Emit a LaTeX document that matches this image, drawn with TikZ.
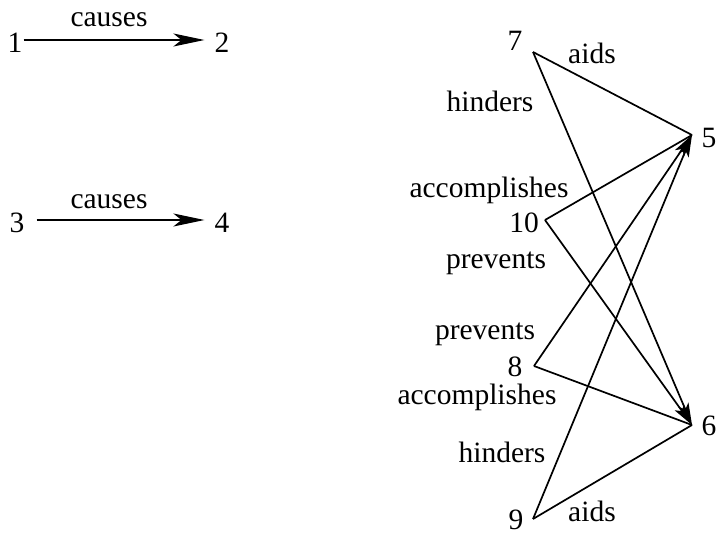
\documentclass[tikz,border=0pt]{standalone}
\usepackage{fontspec}
\setmainfont{Liberation Serif}
\usetikzlibrary{arrows.meta}
\begin{document}
\begin{tikzpicture}[x=1pt,y=-1pt,
  lbl/.style={anchor=base,inner sep=0pt,font=\fontsize{29.5}{32}\selectfont},
  edge/.style={line width=1.7pt,line join=miter},
  bigtip/.style={edge,-{Stealth[length=31pt,width=13pt,inset=8pt]}},
  tip/.style={edge,-{Stealth[length=22pt,width=11pt,inset=5pt]}}]
\useasboundingbox (0,0) rectangle (716,535);

% left: two causal pairs
\node[lbl] (n1) at (15,53) {1};
\node[lbl] (n2) at (222,53) {2};
\node[lbl] (c12) at (109,27) {causes};
\draw[bigtip] ([yshift=13pt,xshift=1pt]n1.base east) -- ([yshift=13pt,xshift=-10pt]n2.base west);

\node[lbl] (n3) at (17,233) {3};
\node[lbl] (n4) at (222,233) {4};
\node[lbl] (c34) at (109,208) {causes};
\draw[bigtip] ([yshift=13pt,xshift=12pt]n3.base east) -- ([yshift=13pt,xshift=-10pt]n4.base west);

% right: vertices
\coordinate (v7) at (533,52);
\coordinate (v5) at (692,135);
\coordinate (v10) at (545,220);
\coordinate (v8) at (534,366);
\coordinate (v6) at (692,425);
\coordinate (v9) at (533,519);

% vertex labels
\node[lbl] (l7) at (515,51) {7};
\node[lbl] (l5) at (709,147) {5};
\node[lbl] (l10) at (524,233) {10};
\node[lbl] (l8) at (515,376) {8};
\node[lbl] (l6) at (709,435) {6};
\node[lbl] (l9) at (516,529) {9};

% relation labels
\node[lbl] (a7) at (592,64) {aids};
\node[lbl] (h7) at (490,112) {hinders};
\node[lbl] (ac10) at (489,197) {accomplishes};
\node[lbl] (p10) at (496,268) {prevents};
\node[lbl] (p8) at (485,339) {prevents};
\node[lbl] (ac8) at (477,404) {accomplishes};
\node[lbl] (h9) at (502,462) {hinders};
\node[lbl] (a9) at (592,521) {aids};

% edges
\draw[edge] (v7) -- (v5);
\draw[tip] (v7) -- (v6);
\draw[edge] (v10) -- (v5);
\draw[tip] (v10) -- (v6);
\draw[tip] (v8) -- (v5);
\draw[edge] (v8) -- (v6);
\draw[tip] (v9) -- (v5);
\draw[edge] (v9) -- (v6);
\end{tikzpicture}
\end{document}
